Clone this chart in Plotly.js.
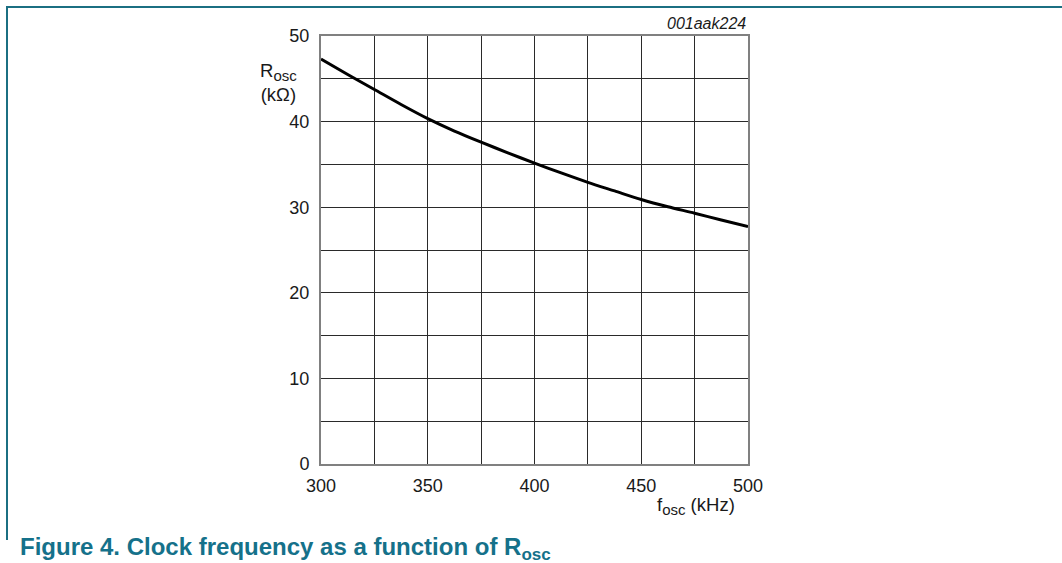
<!DOCTYPE html>
<html>
<head>
<meta charset="utf-8">
<script src="https://cdn.plot.ly/plotly-3.0.1.min.js"></script>
<style>
  html, body { margin: 0; padding: 0; background: #ffffff; }
  #wrap { position: relative; width: 1062px; height: 563px; overflow: hidden; }
  #chart { position: absolute; left: 0; top: 0; width: 1062px; height: 563px; }
  #frameTop { position: absolute; left: 6px; top: 6px; width: 1056px; height: 2px; background: #1b6f82; }
  #frameLeft { position: absolute; left: 6px; top: 6px; width: 2px; height: 534px; background: #1b6f82; }
</style>
</head>
<body>
<div id="wrap">
  <div id="chart"></div>
  <div id="frameTop"></div>
  <div id="frameLeft"></div>
</div>
<script>
// Data
const freqKHz = [300, 312.5, 325, 337.5, 350, 362.5, 375, 387.5, 400, 412.5, 425, 437.5, 450, 462.5, 475, 487.5, 500];
const rOscKOhm = [47.3, 45.5, 43.75, 42.0, 40.35, 38.9, 37.6, 36.35, 35.15, 34.0, 32.9, 31.9, 30.9, 30.05, 29.3, 28.5, 27.75];

const xTickVals = [300, 350, 400, 450, 500];
const xTickText = ['300', '350', '400', '450', '500'];
const yTickVals = [0, 10, 20, 30, 40, 50];
const yTickText = ['0', '10', '20', '30', '40', '50'];

const figureId = '001aak224';
const captionText = '<b>Figure 4. Clock frequency as a function of R<sub><span style="font-size:17px">osc</span></sub></b>';
const yTitle = 'R<sub><span style="font-size:15px">osc</span></sub><br>(kΩ)';
const xTitle = 'f<sub><span style="font-size:15px">osc</span></sub> (kHz)';

const font = 'Liberation Sans, Arial, sans-serif';

const trace = {
  x: freqKHz,
  y: rOscKOhm,
  type: 'scatter',
  mode: 'lines',
  line: { color: '#000000', width: 3, shape: 'spline', smoothing: 0.8 },
  hoverinfo: 'skip'
};

const layout = {
  width: 1062,
  height: 563,
  margin: { l: 321, r: 314, t: 36, b: 99, pad: 0 },
  paper_bgcolor: 'rgba(0,0,0,0)',
  plot_bgcolor: '#ffffff',
  showlegend: false,
  font: { family: font, size: 18, color: '#1a1a1a' },
  xaxis: {
    range: [300, 500],
    tickmode: 'array',
    tickvals: xTickVals,
    ticktext: xTickText,
    ticks: '',
    showgrid: true,
    gridcolor: '#2a2a2a',
    gridwidth: 1,
    minor: { dtick: 25, tick0: 300, showgrid: true, gridcolor: '#2a2a2a', gridwidth: 1 },
    showline: true,
    linecolor: '#808080',
    linewidth: 2,
    mirror: true,
    zeroline: false,
    ticklabelstandoff: 4,
    tickfont: { family: font, size: 18, color: '#1a1a1a' },
    fixedrange: true
  },
  yaxis: {
    range: [0, 50],
    tickmode: 'array',
    tickvals: yTickVals,
    ticktext: yTickText,
    ticks: '',
    showgrid: true,
    gridcolor: '#2a2a2a',
    gridwidth: 1,
    minor: { dtick: 5, tick0: 0, showgrid: true, gridcolor: '#2a2a2a', gridwidth: 1 },
    showline: true,
    linecolor: '#808080',
    linewidth: 2,
    mirror: true,
    zeroline: false,
    ticklabelstandoff: 6,
    tickfont: { family: font, size: 18, color: '#1a1a1a' },
    fixedrange: true
  },
  annotations: [
    {
      text: yTitle, xref: 'paper', yref: 'paper', x: -0.1007, y: 0.948,
      xanchor: 'center', yanchor: 'top', showarrow: false, align: 'center',
      font: { family: font, size: 18.5, color: '#1a1a1a' }
    },
    {
      text: xTitle, xref: 'paper', yref: 'paper', x: 0.974, y: -0.066,
      xanchor: 'right', yanchor: 'top', showarrow: false,
      font: { family: font, size: 18.5, color: '#1a1a1a' }
    },
    {
      text: '<i>' + figureId + '</i>', xref: 'paper', yref: 'paper', x: 1.0, y: 1.004,
      xanchor: 'right', yanchor: 'bottom', showarrow: false,
      font: { family: font, size: 16, color: '#1a1a1a' }
    },
    {
      text: captionText, xref: 'paper', yref: 'paper', x: -0.7096, y: -0.197,
      xanchor: 'left', yanchor: 'middle', showarrow: false, align: 'left',
      font: { family: font, size: 24, color: '#15718a' }
    }
  ]
};

Plotly.newPlot('chart', [trace], layout, { staticPlot: true, displayModeBar: false });
</script>
</body>
</html>
